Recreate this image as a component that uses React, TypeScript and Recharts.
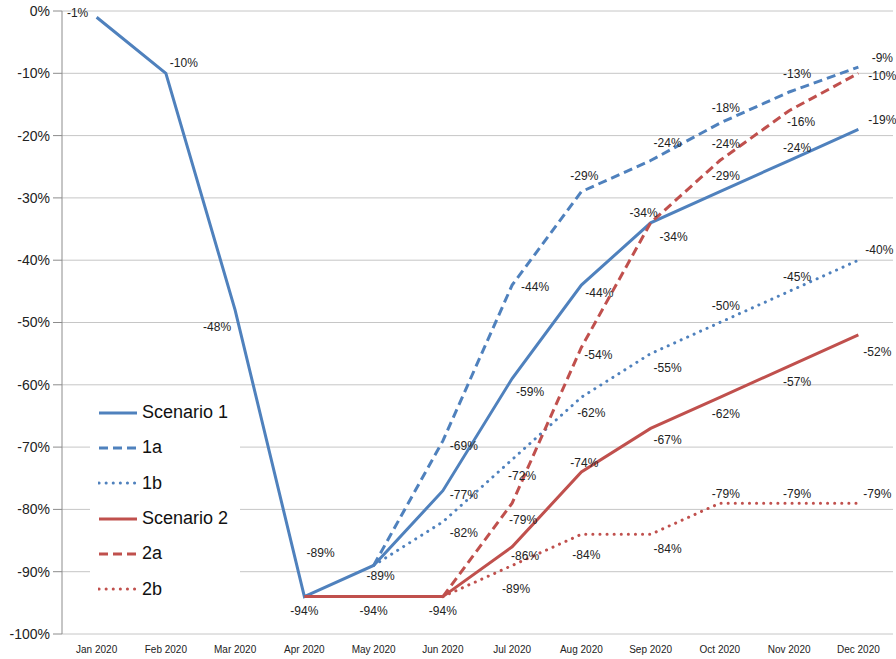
import React from "react";
import { LineChart, Line, XAxis, YAxis, CartesianGrid, Legend, LabelList } from "recharts";

const months = ["Jan 2020", "Feb 2020", "Mar 2020", "Apr 2020", "May 2020", "Jun 2020", "Jul 2020", "Aug 2020", "Sep 2020", "Oct 2020", "Nov 2020", "Dec 2020"];
const scenario1 = [-1, -10, -48, -94, -89, -77, -59, -44, -34, -29, -24, -19];
const scenario1a = [null, null, null, null, -89, -69, -44, -29, -24, -18, -13, -9];
const scenario1b = [null, null, null, null, -89, -82, -72, -62, -55, -50, -45, -40];
const scenario2 = [null, null, null, -94, -94, -94, -86, -74, -67, -62, -57, -52];
const scenario2a = [null, null, null, null, null, -94, -79, -54, -34, -24, -16, -10];
const scenario2b = [null, null, null, null, null, -94, -89, -84, -84, -79, -79, -79];
const yTicks = [0, -10, -20, -30, -40, -50, -60, -70, -80, -90, -100];

const BLUE = "#4F81BD";
const RED = "#C0504D";
const FONT = "'Liberation Sans', Arial, sans-serif";

const data = months.map((month, i) => ({
  month,
  s1: scenario1[i],
  s1a: scenario1a[i],
  s1b: scenario1b[i],
  s2: scenario2[i],
  s2a: scenario2a[i],
  s2b: scenario2b[i],
}));

// label placement per month (dx, dy from the point); null = no label shown
type Off = [number, number] | null;
const LABEL_OFFSETS: Record<string, Off[]> = {
  s1: [[-19, -4], [18, -10], [-18, 17], [0, 14], [7, 11], [21, 4], [18, 13], [18, 8], [23, 14], [6, -16], [8, -13], [24, -9]],
  s1a: [null, null, null, null, [-53, -12], [21, 5], [23, 2], [3, -16], [17, -18], [6, -15], [8, -18], [24, -9]],
  s1b: [null, null, null, null, null, [21, 11], [10, 16], [10, 16], [17, 14], [6, -17], [8, -14], [21, -10]],
  s2: [null, null, null, null, [0, 14], [0, 14], [13, 9], [3, -9], [17, 12], [6, 17], [8, 16], [19, 17]],
  s2a: [null, null, null, null, null, null, [11, 17], [17, 8], [-7, -10], [6, -17], [12, 11], [24, 3]],
  s2b: [null, null, null, null, null, null, [4, 24], [5, 21], [17, 15], [6, -9], [8, -9], [19, -9]],
};

const DOT = "0.1 7";
const series = [
  { key: "s1", name: "Scenario 1", color: BLUE, dash: undefined },
  { key: "s1a", name: "1a", color: BLUE, dash: "9 5" },
  { key: "s1b", name: "1b", color: BLUE, dash: DOT },
  { key: "s2", name: "Scenario 2", color: RED, dash: undefined },
  { key: "s2a", name: "2a", color: RED, dash: "9 5" },
  { key: "s2b", name: "2b", color: RED, dash: DOT },
];

const PLOT_TOP = 11;
const BAND = 831 / 12;

const TopTick = (props: any) => {
  const { x, index, visibleTicksCount } = props;
  const left = x - BAND / 2;
  return (
    <g>
      <line x1={left} x2={left} y1={PLOT_TOP} y2={PLOT_TOP - 6} stroke="#8c8c8c" />
      {index === visibleTicksCount - 1 && (
        <line x1={x + BAND / 2} x2={x + BAND / 2} y1={PLOT_TOP} y2={PLOT_TOP - 6} stroke="#8c8c8c" />
      )}
    </g>
  );
};

const makeLabel = (key: string) => (props: any) => {
  const { x, y, value, index } = props;
  const off = LABEL_OFFSETS[key][index];
  if (value === null || value === undefined || !off) return null;
  return (
    <text x={x + off[0]} y={y + off[1]} textAnchor="middle" dominantBaseline="central" fontSize={12} fontFamily={FONT} fill="#222">
      {`${value}%`}
    </text>
  );
};

const renderLegend = () => (
  <div style={{ background: "#fff", paddingLeft: 8, fontFamily: FONT }}>
    {series.map((s) => (
      <div key={s.key} style={{ display: "flex", alignItems: "center", height: 35.3 }}>
        <svg width={44} height={10}>
          <line x1={1} x2={39} y1={5} y2={5} stroke={s.color} strokeWidth={3} strokeDasharray={s.dash} strokeLinecap={s.dash === DOT ? "round" : "butt"} />
        </svg>
        <span style={{ fontSize: 18, color: "#111" }}>{s.name}</span>
      </div>
    ))}
  </div>
);

export default function App() {
  return (
    <div style={{ position: "fixed", left: 0, top: 0, background: "#fff" }}>
      <LineChart width={896} height={659} data={data} margin={{ top: PLOT_TOP, right: 3, bottom: 0, left: 0 }}>
        <CartesianGrid vertical={false} stroke="#c6c6c6" />
        <XAxis dataKey="month" scale="band" height={25} axisLine={false} tickLine={false} tickMargin={6} interval={0}
          tick={{ fontSize: 10, fontFamily: FONT, fill: "#222" }} />
        <XAxis xAxisId="top" dataKey="month" scale="band" orientation="top" height={0} interval={0}
          axisLine={{ stroke: "#8c8c8c" }} tickLine={false} tick={<TopTick />} />
        <YAxis domain={[-100, 0]} ticks={yTicks} width={62} interval={0} tickSize={9} tickMargin={3}
          axisLine={{ stroke: "#8c8c8c" }} tickLine={{ stroke: "#8c8c8c" }}
          tickFormatter={(v: number) => `${v}%`} tick={{ fontSize: 14, fontFamily: FONT, fill: "#222" }} />
        <Legend layout="horizontal" verticalAlign="middle" align="center" content={renderLegend}
          wrapperStyle={{ left: 90, top: 395, width: 150 }} />
        {series.map((s) => (
          <Line key={s.key} type="linear" dataKey={s.key} name={s.name} stroke={s.color} strokeWidth={3}
            strokeDasharray={s.dash} strokeLinecap={s.dash === DOT ? "round" : "butt"} dot={false}
            activeDot={false} isAnimationActive={false} connectNulls={false}>
            <LabelList dataKey={s.key} content={makeLabel(s.key)} />
          </Line>
        ))}
      </LineChart>
    </div>
  );
}
